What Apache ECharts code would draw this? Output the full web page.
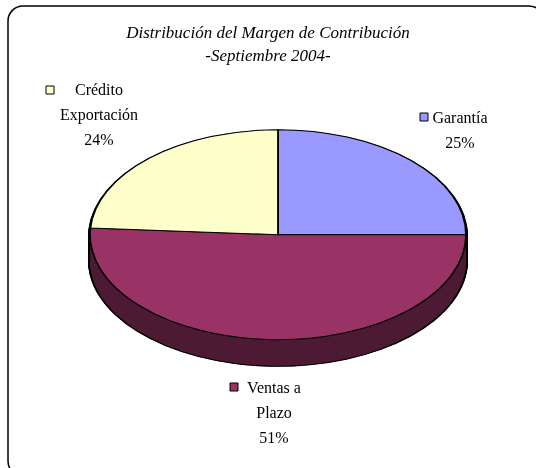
<!DOCTYPE html>
<html>
<head>
<meta charset="utf-8">
<script src="https://cdn.jsdelivr.net/npm/echarts@6/dist/echarts.min.js"></script>
<style>
  html, body { margin: 0; padding: 0; background: #fff; }
  #main { position: absolute; left: 0; top: 0; width: 536px; height: 468px; }
  #pie { position: absolute; left: 0; top: 0; width: 536px; height: 536px; transform-origin: 0 0; }
</style>
</head>
<body>
<div id="main"></div>
<div id="pie"></div>
<script>
const categories = ["Garantía", "Ventas a Plazo", "Crédito Exportación"];
const labelLines = ["Garantía", "Ventas a\nPlazo", "Crédito\nExportación"];
const values = [25, 51, 24];
const colors = ["#9999FF", "#993366", "#FFFFCC"];
// only the front wall (Ventas) is seen, so the side takes its dark shade
const sideColor = "#4D1A33";
const titleText = "Distribución del Margen de Contribución\n-Septiembre 2004-";

const FONT = "'Liberation Serif', 'Times New Roman', serif";

// ellipse of the pie top (screen px)
const cx = 278, cy = 235, rx = 188, ry = 105, depth = 26;
const k = ry / rx;
const cyU = 200; // center inside the un-squashed div
const depthU = depth / k;

const pieDom = document.getElementById("pie");
pieDom.style.top = (cy - cyU * k) + "px";
pieDom.style.transform = "scaleY(" + k + ")";

const total = values.reduce((a, b) => a + b, 0);
const pct = values.map((v) => Math.round((v / total) * 100) + "%");

const base = {
  type: "pie",
  startAngle: 90,
  clockwise: true,
  silent: true,
  avoidLabelOverlap: false,
  label: { show: false },
  labelLine: { show: false },
  emphasis: { disabled: true },
};

const offsets = [];
for (let d = 2; d < depthU; d += 2) offsets.push(d);
offsets.push(depthU);

const series = [];
// black silhouette of the side (gives the outline)
offsets.forEach((d) => {
  series.push(Object.assign({}, base, {
    center: [cx, cyU + d],
    radius: rx + 2,
    data: categories.map((n, i) => ({ name: n, value: values[i], itemStyle: { color: "#000", borderWidth: 0 } })),
  }));
});
// dark side
offsets.forEach((d) => {
  series.push(Object.assign({}, base, {
    center: [cx, cyU + d],
    radius: rx,
    data: categories.map((n, i) => ({ name: n, value: values[i], itemStyle: { color: sideColor, borderWidth: 0 } })),
  }));
});
// top face
series.push(Object.assign({}, base, {
  center: [cx, cyU],
  radius: rx,
  data: categories.map((n, i) => ({
    name: n,
    value: values[i],
    itemStyle: { color: colors[i], borderColor: "#000", borderWidth: 1.8 },
  })),
}));

const pieChart = echarts.init(pieDom, null, { renderer: "svg" });
pieChart.setOption({ animation: false, series: series });

// labels with legend keys (text from the arrays)
const labelPos = [
  { x: 460, y: 106, kx: 420, ky: 113 },
  { x: 274, y: 376, kx: 230, ky: 383 },
  { x: 99, y: 78, kx: 46, ky: 86 },
];
const graphics = [
  {
    type: "rect",
    shape: { x: 8, y: 6, width: 536, height: 470, r: 15 },
    style: { fill: "none", stroke: "#000", lineWidth: 1.5 },
    silent: true,
  },
];
labelPos.forEach((p, i) => {
  graphics.push({
    type: "rect",
    shape: { x: p.kx, y: p.ky, width: 8, height: 8 },
    style: { fill: colors[i], stroke: "#000", lineWidth: 1 },
    silent: true,
  });
  graphics.push({
    type: "text",
    x: p.x,
    y: p.y,
    style: {
      text: labelLines[i] + "\n" + pct[i],
      fill: "#000",
      font: "16px " + FONT,
      lineHeight: 25,
      align: "center",
      verticalAlign: "top",
    },
    silent: true,
  });
});

const mainChart = echarts.init(document.getElementById("main"));
mainChart.setOption({
  animation: false,
  backgroundColor: "#fff",
  title: {
    text: titleText,
    left: "center",
    top: 22,
    padding: [0, 0, 0, 16],
    textStyle: {
      fontFamily: FONT,
      fontStyle: "italic",
      fontWeight: "normal",
      fontSize: 17,
      lineHeight: 23,
      color: "#000",
    },
  },
  graphic: graphics,
});
</script>
</body>
</html>
